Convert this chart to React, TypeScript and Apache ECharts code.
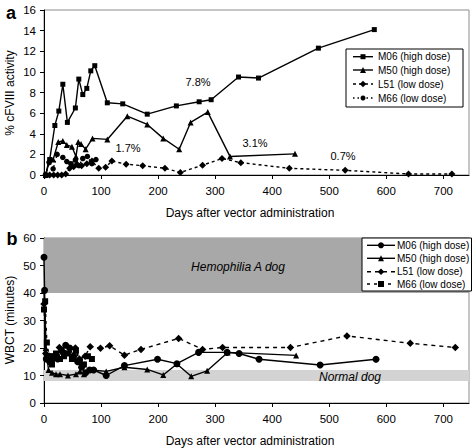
import React, { useEffect, useRef } from "react";
import * as echarts from "echarts";

const FONT = "'Liberation Sans', Arial, Helvetica, sans-serif";

// ---- axes ----
const X_MAX = 745;
const X_INTERVAL = 100;
const A_Y_MAX = 16;
const A_Y_INTERVAL = 2;
const B_Y_MAX = 60;
const B_Y_INTERVAL = 10;
const X_TITLE = "Days after vector administration";
const A_Y_TITLE = "% cFVIII activity";
const B_Y_TITLE = "WBCT (minutes)";

const SERIES_NAMES = ["M06 (high dose)", "M50 (high dose)", "L51 (low dose)", "M66 (low dose)"];

// ---- panel a: % cFVIII activity ----
const A_M06_DAYS = [3, 10, 19, 26, 33, 41, 55, 61, 68, 75, 82, 89, 111, 138, 181, 232, 272, 293, 341, 376, 481, 579];
const A_M06_VALS = [0, 1.5, 4.8, 6.2, 8.8, 5.1, 6.5, 9.3, 7.8, 8.4, 10.1, 10.6, 7.0, 6.9, 5.9, 6.7, 7.1, 7.3, 9.5, 9.4, 12.3, 14.1];
const A_M50_DAYS = [3, 9, 16, 25, 33, 40, 49, 56, 60, 65, 73, 85, 111, 146, 181, 209, 237, 257, 287, 326, 440];
const A_M50_VALS = [0, 1.5, 1.5, 3.2, 3.3, 2.9, 2.75, 1.8, 3.2, 3.0, 2.5, 3.55, 3.45, 5.7, 4.9, 3.55, 2.5, 5.1, 6.1, 1.8, 2.05];
const A_L51_DAYS = [3, 10, 17, 24, 31, 38, 45, 52, 58, 66, 75, 84, 96, 108, 119, 144, 173, 212, 239, 278, 312, 345, 430, 528, 639, 715];
const A_L51_VALS = [0, 0, 0, 0, 0, 0.1, 0.65, 0.8, 1.05, 0.9, 1.1, 1.35, 0.65, 0.75, 1.35, 1.05, 0.9, 0.65, 0.25, 0.95, 1.6, 1.2, 0.65, 0.45, 0.1, 0.1];
const A_M66_DAYS = [3, 9, 16, 23, 33, 40, 47, 55, 61, 68, 76, 84, 91];
const A_M66_VALS = [0, 1.2, 0.6, 2.0, 1.7, 1.3, 1.1, 1.45, 0.9, 1.6, 1.8, 1.1, 1.5];
const A_ANNOTATIONS = ["7.8%", "3.1%", "0.7%", "1.7%"];

// ---- panel b: WBCT (minutes) ----
const B_M06_DAYS = [0, 1, 4, 10, 17, 24, 31, 38, 45, 52, 59, 66, 73, 80, 87, 109, 141, 199, 233, 271, 321, 342, 377, 484, 582];
const B_M06_VALS = [53, 41, 16, 15, 17, 16, 19, 21, 20, 17, 15, 13, 11, 12, 12, 10, 13.6, 15.9, 14.3, 18.4, 18.4, 18, 15.9, 13.8, 15.9];
const B_M50_DAYS = [0, 3, 8, 14, 21, 28, 42, 56, 63, 70, 84, 109, 141, 181, 209, 233, 258, 286, 322, 442];
const B_M50_VALS = [41, 20, 12, 11, 10.5, 10.5, 10, 10.5, 11.5, 10.5, 12, 11.5, 13, 12.2, 10.2, 14.2, 9.7, 11.7, 18.4, 17.3];
const B_L51_DAYS = [0, 3, 10, 17, 27, 38, 55, 62, 72, 81, 99, 115, 141, 170, 236, 278, 313, 432, 531, 642, 721];
const B_L51_VALS = [36, 18, 17, 16, 20.2, 18, 20, 16, 17, 20.5, 19.9, 20.8, 17.4, 19.5, 23.5, 19.5, 20.2, 20.2, 24.4, 21.7, 20.2];
const B_M66_DAYS = [0, 2, 5, 9, 14, 21, 28, 35, 42, 49, 56, 63, 70, 77, 84];
const B_M66_VALS = [34, 37, 22, 17, 14, 18, 16, 17, 18, 16, 19, 15, 14, 17, 16];
const HEMO_BAND = [40, 60];
const NORMAL_BAND = [8, 12];
const BAND_LABELS = ["Hemophilia A dog", "Normal dog"];

const pairs = (d: number[], v: number[]) => d.map((x, i) => [x, v[i]]);

function lineSeries(name: string, days: number[], vals: number[], idx: number, symbol: string, size: number, dash: any) {
  return {
    type: "line",
    name,
    xAxisIndex: idx,
    yAxisIndex: idx,
    data: pairs(days, vals),
    symbol,
    symbolSize: size,
    showSymbol: true,
    lineStyle: { color: "#000", width: 1.4, type: dash },
    itemStyle: { color: "#000", borderWidth: 0 },
    z: 3,
    silent: true,
  };
}

function xAxis(idx: number) {
  return {
    type: "value",
    gridIndex: idx,
    min: 0,
    max: X_MAX,
    interval: X_INTERVAL,
    axisLine: { show: true, lineStyle: { color: "#000", width: 1 } },
    axisTick: { show: true, inside: false, length: 4, lineStyle: { color: "#000" } },
    axisLabel: { showMaxLabel: false, fontSize: 11.5, fontFamily: FONT, color: "#000", margin: 10 },
    splitLine: { show: false },
  };
}

function yAxis(idx: number, max: number, interval: number) {
  return {
    type: "value",
    gridIndex: idx,
    min: 0,
    max,
    interval,
    axisLine: { show: true, lineStyle: { color: "#000", width: 1 } },
    axisTick: { show: true, inside: false, length: 4, lineStyle: { color: "#000" } },
    axisLabel: { fontSize: 11.5, fontFamily: FONT, color: "#000", margin: 8 },
    splitLine: { show: false },
  };
}

function text(x: number, y: number, t: string, style: any = {}, extra: any = {}) {
  return {
    type: "text",
    x,
    y,
    z: 100,
    silent: true,
    ...extra,
    style: { text: t, fontFamily: FONT, fontSize: 12, fill: "#000", align: "center", verticalAlign: "middle", ...style },
  };
}

function symbolShape(kind: string, cx: number, cy: number, s: number) {
  const h = s / 2;
  const style = { fill: "#000" };
  if (kind === "rect") return { type: "rect", z: 101, silent: true, shape: { x: cx - h, y: cy - h, width: s, height: s }, style };
  if (kind === "circle") return { type: "circle", z: 101, silent: true, shape: { cx, cy, r: h }, style };
  if (kind === "triangle")
    return { type: "polygon", z: 101, silent: true, shape: { points: [[cx, cy - h], [cx + h, cy + h], [cx - h, cy + h]] }, style };
  return { type: "polygon", z: 101, silent: true, shape: { points: [[cx, cy - h], [cx + h, cy], [cx, cy + h], [cx - h, cy]] }, style };
}

function legendBox(
  box: [number, number, number, number],
  rowsY: number[],
  lineX: [number, number],
  textX: number,
  symbols: string[],
  sizes: number[],
  dashes: any[]
) {
  const els: any[] = [
    {
      type: "rect",
      z: 99,
      silent: true,
      shape: { x: box[0], y: box[1], width: box[2], height: box[3] },
      style: { fill: "#fff", stroke: "#000", lineWidth: 1 },
    },
  ];
  SERIES_NAMES.forEach((name, i) => {
    const y = rowsY[i];
    els.push({
      type: "line",
      z: 100,
      silent: true,
      shape: { x1: lineX[0], y1: y, x2: lineX[1], y2: y },
      style: { stroke: "#000", lineWidth: 1.4, lineDash: dashes[i] },
    });
    els.push(symbolShape(symbols[i], (lineX[0] + lineX[1]) / 2, y, sizes[i]));
    els.push(text(textX, y, name, { fontSize: 10, align: "left" }));
  });
  return els;
}

export default function App() {
  const ref = useRef<HTMLDivElement>(null);

  useEffect(() => {
    document.body.style.margin = "0";
    if (!ref.current) return;
    const chart = echarts.init(ref.current, undefined, { renderer: "svg" });

    const aSymbols = ["rect", "triangle", "diamond", "circle"];
    const aSizes = [5, 6, 7, 5.5];
    const aDash: any[] = ["solid", "solid", [3, 3], [1.5, 3]];
    const bSymbols = ["circle", "triangle", "diamond", "rect"];
    const bSizes = [7, 6, 7.5, 6];
    const bDash: any[] = ["solid", "solid", [4, 4], [3, 4]];

    const aData = [
      [A_M06_DAYS, A_M06_VALS],
      [A_M50_DAYS, A_M50_VALS],
      [A_L51_DAYS, A_L51_VALS],
      [A_M66_DAYS, A_M66_VALS],
    ];
    const bData = [
      [B_M06_DAYS, B_M06_VALS],
      [B_M50_DAYS, B_M50_VALS],
      [B_L51_DAYS, B_L51_VALS],
      [B_M66_DAYS, B_M66_VALS],
    ];

    const series: any[] = [];
    series.push({
      type: "line",
      name: "bands",
      xAxisIndex: 1,
      yAxisIndex: 1,
      data: [[0, 50]],
      showSymbol: false,
      symbol: "none",
      lineStyle: { width: 0, opacity: 0 },
      z: 1,
      silent: true,
      markArea: {
        silent: true,
        z: 1,
        data: [
          [{ yAxis: HEMO_BAND[0], itemStyle: { color: "#a8a8a8" } }, { yAxis: HEMO_BAND[1] }],
          [{ yAxis: NORMAL_BAND[0], itemStyle: { color: "#d3d3d3" } }, { yAxis: NORMAL_BAND[1] }],
        ],
      },
    });
    aData.forEach((d, i) => series.push(lineSeries(SERIES_NAMES[i], d[0], d[1], 0, aSymbols[i], aSizes[i], aDash[i])));
    bData.forEach((d, i) => series.push(lineSeries(SERIES_NAMES[i], d[0], d[1], 1, bSymbols[i], bSizes[i], bDash[i])));

    const graphic: any[] = [
      text(11, 12.5, "a", { fontSize: 18, fontWeight: "bold" }),
      text(12, 239, "b", { fontSize: 18, fontWeight: "bold" }),
      text(10, 93, A_Y_TITLE, {}, { rotation: Math.PI / 2 }),
      text(10, 320, B_Y_TITLE, {}, { rotation: Math.PI / 2 }),
      text(250, 213, X_TITLE),
      text(250, 441, X_TITLE),
      text(198, 82, A_ANNOTATIONS[0], { fontSize: 11 }),
      text(255, 143, A_ANNOTATIONS[1], { fontSize: 11 }),
      text(343, 156, A_ANNOTATIONS[2], { fontSize: 11 }),
      text(128, 148, A_ANNOTATIONS[3], { fontSize: 11 }),
      text(238, 267, BAND_LABELS[0], { fontStyle: "italic" }),
      text(350, 376.5, BAND_LABELS[1], { fontStyle: "italic" }),
      ...legendBox([346, 49, 117, 58], [56.7, 70, 84, 98], [353, 373], 378, aSymbols, [5, 6, 6.5, 5], aDash),
      ...legendBox([362, 238, 109.5, 53], [245.3, 258.3, 271.7, 284], [367, 395], 397, bSymbols, [6, 6, 6.5, 6], bDash),
    ];

    chart.setOption({
      animation: false,
      backgroundColor: "#fff",
      textStyle: { fontFamily: FONT },
      grid: [
        { left: 44, right: 5, top: 10, height: 165, show: true, borderColor: "#8c8c8c", borderWidth: 1, backgroundColor: "transparent" },
        { left: 44, right: 5, top: 238, height: 165, show: true, borderColor: "#8c8c8c", borderWidth: 1, backgroundColor: "transparent" },
      ],
      xAxis: [xAxis(0), xAxis(1)],
      yAxis: [yAxis(0, A_Y_MAX, A_Y_INTERVAL), yAxis(1, B_Y_MAX, B_Y_INTERVAL)],
      series,
      graphic,
    });

    return () => chart.dispose();
  }, []);

  return <div ref={ref} style={{ position: "absolute", left: 0, top: 0, width: 474, height: 448 }} />;
}
